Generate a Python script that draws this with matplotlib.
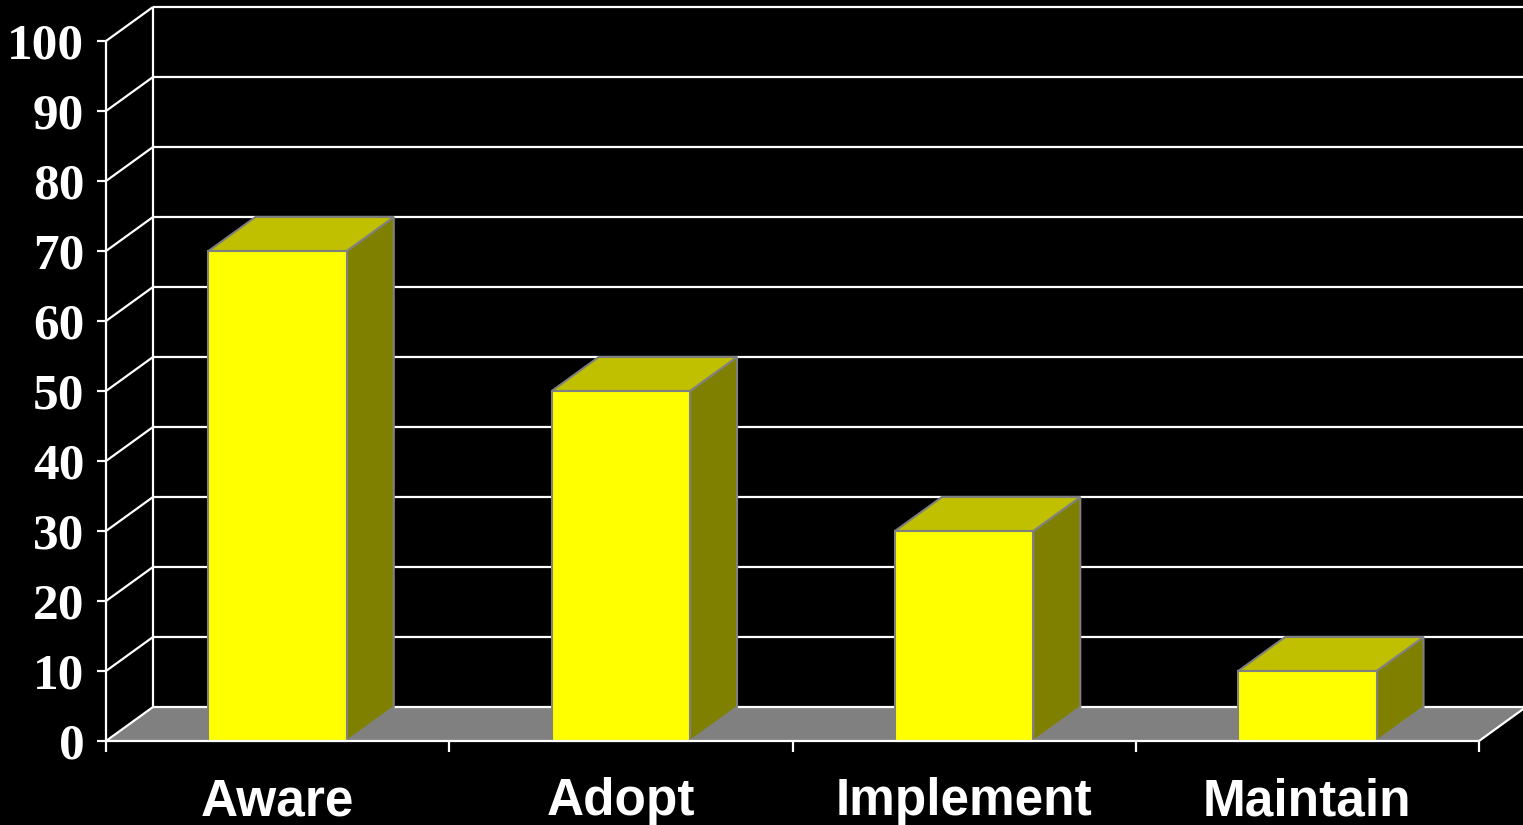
import matplotlib
matplotlib.use('Agg')
from matplotlib import pyplot as plt
from matplotlib.patches import Polygon

# chart data
categories = ['Aware', 'Adopt', 'Implement', 'Maintain']
values = [70, 50, 30, 10]
yticks = [0, 10, 20, 30, 40, 50, 60, 70, 80, 90, 100]

W, H = 1523, 825
fig = plt.figure(figsize=(W / 100, H / 100), dpi=100, facecolor='black')
# front plane of the 3d box, in pixels
x0, x1, ybot, ytop = 106, 1479, 741, 41
ax = fig.add_axes([x0 / W, 1 - ybot / H, (x1 - x0) / W, (ybot - ytop) / H])
ax.set_facecolor('none')
ax.set_xlim(0, len(categories))
ax.set_ylim(0, 100)
for s in ax.spines.values():
    s.set_visible(False)

# depth offset (pixels -> data units)
dx = 47 / (x1 - x0) * len(categories)
dy = 34 / (ybot - ytop) * 100
n = len(categories)

white = dict(color='white', lw=1.6, clip_on=False, solid_capstyle='butt')

# floor
ax.add_patch(Polygon([(0, 0), (n, 0), (n + dx, dy), (dx, dy)], closed=True,
                     facecolor='#808080', edgecolor='none', clip_on=False, zorder=1))

# back wall + left wall grid
ax.plot([dx, dx], [dy, 100 + dy], zorder=2, **white)
for v in yticks:
    ax.plot([dx, n + dx], [v + dy, v + dy], zorder=2, **white)
    ax.plot([0, dx], [v, v + dy], zorder=2, **white)
ax.plot([n, n + dx], [0, dy], zorder=2, **white)

# bars
bw = 0.403
edge = '#808080'
for i, v in enumerate(values):
    l = i + 0.5 - bw / 2
    r = i + 0.5 + bw / 2
    side = [(r, 0), (r + dx, dy), (r + dx, v + dy), (r, v)]
    top = [(l, v), (r, v), (r + dx, v + dy), (l + dx, v + dy)]
    front = [(l, 0), (r, 0), (r, v), (l, v)]
    for pts, fc in [(side, '#808000'), (top, '#C0C000'), (front, '#FFFF00')]:
        ax.add_patch(Polygon(pts, closed=True, facecolor=fc, edgecolor=edge,
                             lw=1.5, clip_on=False, zorder=3))

# front axes lines
ax.plot([0, 0], [0, 100], zorder=4, **white)
ax.plot([0, n], [0, 0], zorder=4, **white)

ax.set_yticks(yticks)
ax.set_yticklabels([str(v) for v in yticks])
ax.tick_params(axis='y', colors='white', length=6.5, width=1.6, pad=9,
               labelsize=37)
for t in ax.get_yticklabels():
    t.set_fontfamily('Liberation Serif')
    t.set_fontweight('bold')

ax.set_xticks(range(n + 1))
ax.set_xticklabels([])
ax.set_xticks([i + 0.5 for i in range(n)], minor=True)
ax.set_xticklabels(categories, minor=True)
ax.tick_params(axis='x', which='major', colors='white', length=8, width=1.6)
ax.tick_params(axis='x', which='minor', colors='white', length=0, pad=26,
               labelsize=37)
for t in ax.get_xticklabels(minor=True):
    t.set_fontfamily('Liberation Sans')
    t.set_fontweight('bold')

fig.savefig('out.png', dpi=100, facecolor='black')
